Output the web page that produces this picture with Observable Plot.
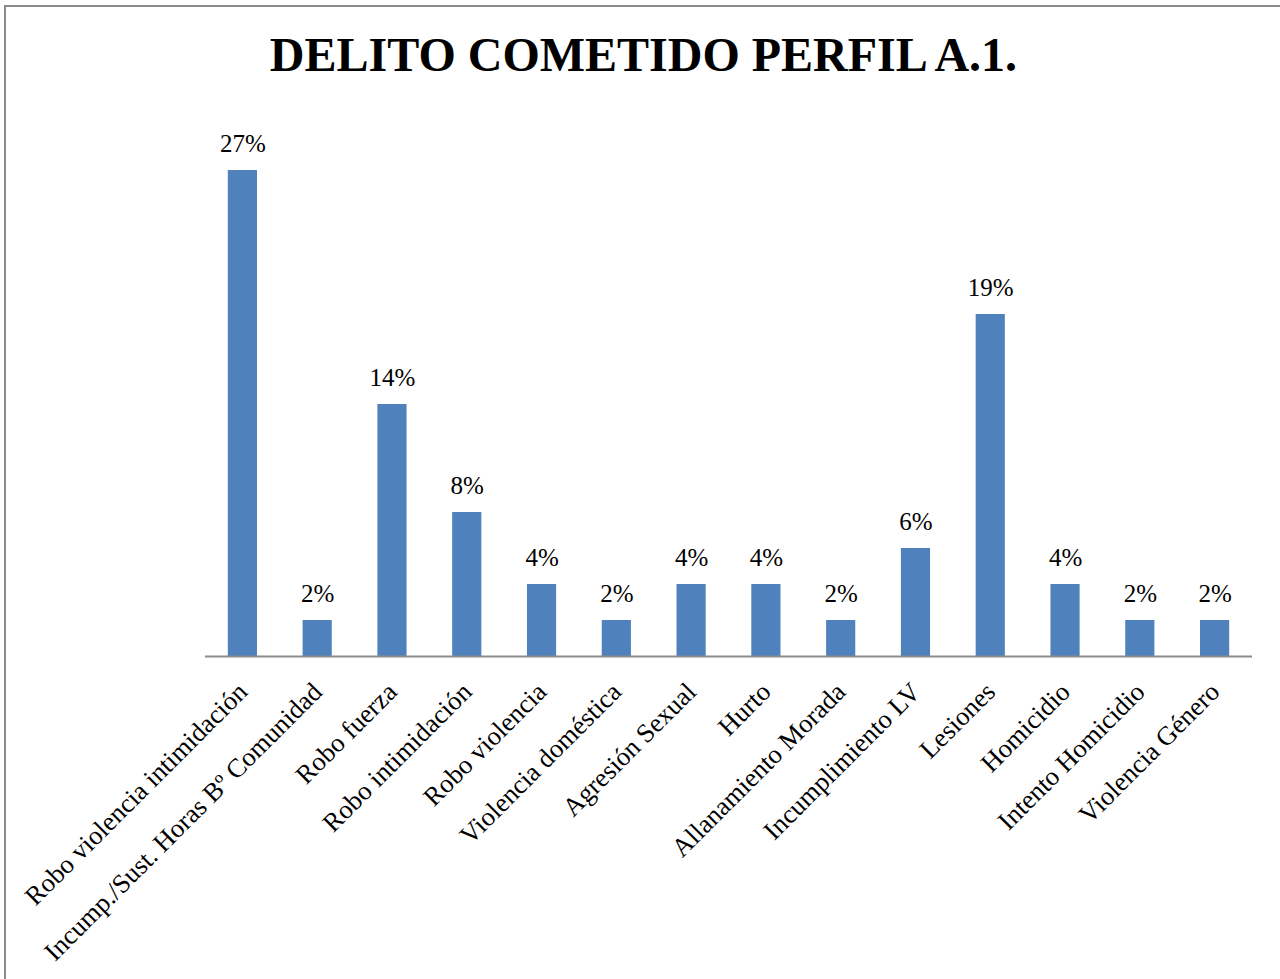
<!DOCTYPE html>
<html>
<head>
<meta charset="utf-8">
<script src="https://cdn.jsdelivr.net/npm/d3@7"></script>
<script src="https://cdn.jsdelivr.net/npm/@observablehq/plot@0.6"></script>
<style>
  html, body { margin: 0; padding: 0; background: #fff; overflow: hidden; }
  #page { position: relative; width: 1280px; height: 979px; overflow: hidden; }
  #frame { position: absolute; left: 4px; top: 5px; width: 1300px; height: 1000px; border: 2px solid #8c8c8c; box-sizing: border-box; }
  #title { position: absolute; left: 0; width: 1287px; top: 27px; text-align: center;
           font-family: "Liberation Serif", "Times New Roman", serif; font-weight: bold; font-size: 48px; line-height: 56px; color: #000; }
  #chart { position: absolute; left: 0; top: 0; }
</style>
</head>
<body>
<div id="page">
  <div id="frame"></div>
  <div id="chart"></div>
  <div id="title">DELITO COMETIDO PERFIL A.1.</div>
</div>
<script>
const categories = [
  "Robo violencia intimidación",
  "Incump./Sust. Horas Bº Comunidad",
  "Robo fuerza",
  "Robo intimidación",
  "Robo violencia",
  "Violencia doméstica",
  "Agresión Sexual",
  "Hurto",
  "Allanamiento Morada",
  "Incumplimiento LV",
  "Lesiones",
  "Homicidio",
  "Intento Homicidio",
  "Violencia Género"
];
const percents = [27, 2, 14, 8, 4, 2, 4, 4, 2, 6, 19, 4, 2, 2];
const valueLabels = ["27%", "2%", "14%", "8%", "4%", "2%", "4%", "4%", "2%", "6%", "19%", "4%", "2%", "2%"];

const data = categories.map((c, i) => ({cat: c, v: percents[i], label: valueLabels[i]}));
const serif = "'Liberation Serif', 'Times New Roman', serif";

const chart = Plot.plot({
  width: 1280,
  height: 979,
  marginLeft: 205,
  marginRight: 28,
  marginTop: 116,
  marginBottom: 323,
  style: {background: "transparent", fontFamily: serif, color: "#000"},
  x: {domain: categories, paddingInner: 0.61, paddingOuter: 0.305, round: false, label: null},
  y: {domain: [0, 30], axis: null},
  marks: [
    Plot.barY(data, {x: "cat", y: "v", fill: "#4F81BD"}),
    Plot.ruleY([0], {stroke: "#8c8c8c", strokeWidth: 2}),
    Plot.text(data, {x: "cat", y: "v", text: "label", dy: -27, fontSize: 25, fontFamily: serif, fill: "#000"}),
    Plot.axisX({tickRotate: -45, tickSize: 0, tickPadding: 0, dx: 0, dy: 31, fontSize: 26.5, fontFamily: serif, fill: "#000", label: null})
  ]
});
document.getElementById("chart").appendChild(chart);
</script>
</body>
</html>
